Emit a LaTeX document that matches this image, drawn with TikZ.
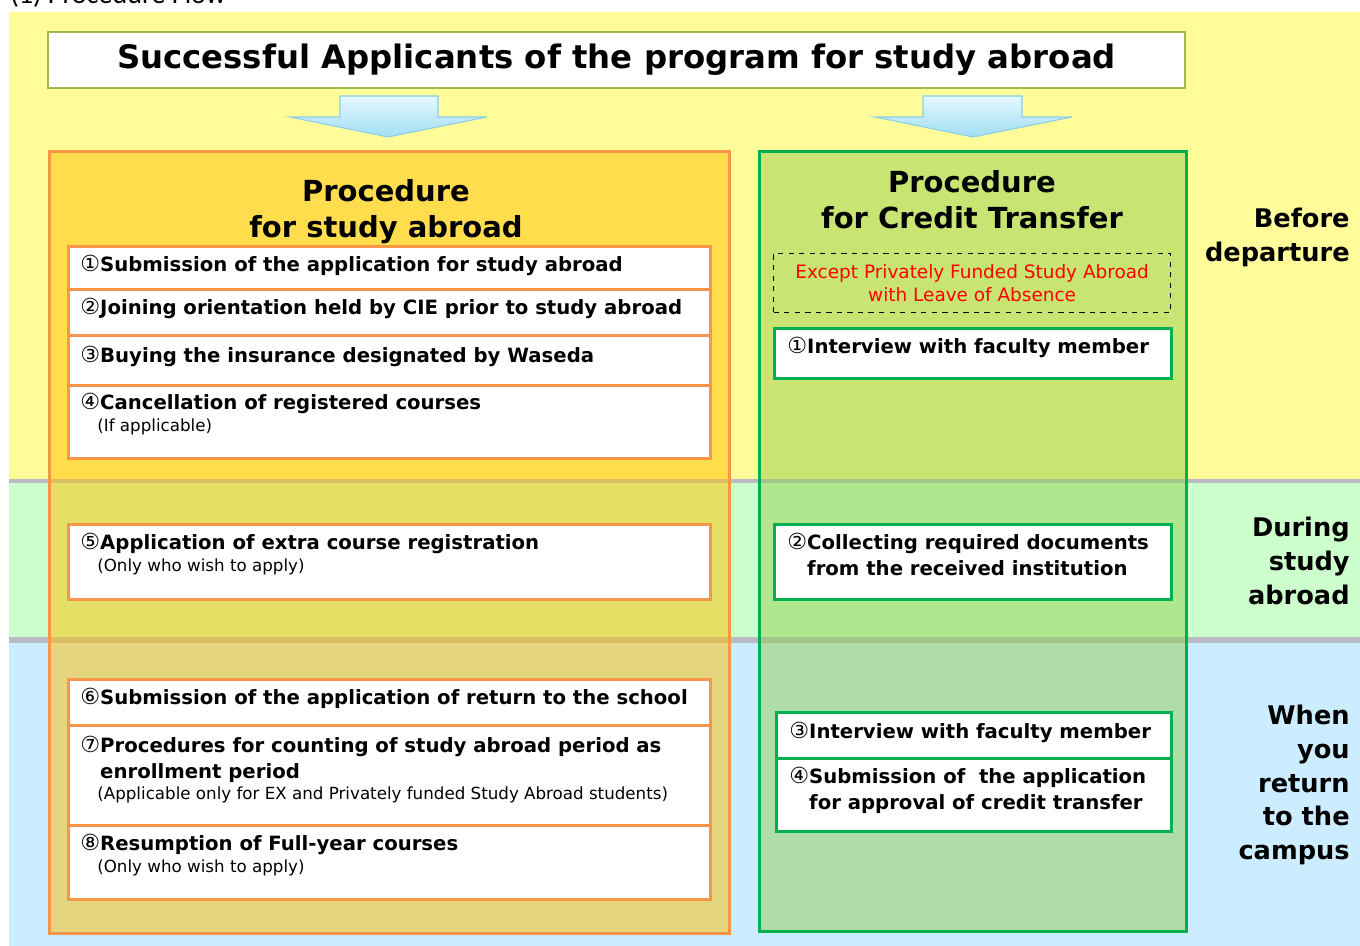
\documentclass[tikz,border=0pt]{standalone}
\usepackage{fontspec}
\setmainfont{DejaVu Sans}
\newfontfamily\capfont{Carlito}
\usepackage{tikz}
\usetikzlibrary{calc}

\definecolor{bandY}{HTML}{FFFC99}
\definecolor{bandG}{HTML}{CCFFCC}
\definecolor{bandB}{HTML}{CCECFF}
\definecolor{sepgray}{HTML}{B8BAC4}
\definecolor{boxorange}{HTML}{F79646}
\definecolor{colorange}{HTML}{FFC000}
\definecolor{boxgreen}{HTML}{00B050}
\definecolor{colgreen}{HTML}{92D050}
\definecolor{titlegreen}{HTML}{9BBB59}
\definecolor{arrowtop}{HTML}{E8F9FF}
\definecolor{arrowbot}{HTML}{9FDDF5}
\definecolor{arrowline}{HTML}{8CCFE6}

\newcommand{\pxl}{0.02cm}
\newcommand{\circnum}[1]{{\mdseries\fontsize{12.6}{14.8}\selectfont#1}}

\tikzset{
  lbox/.style={draw=boxorange, line width=1.6pt, fill=white, anchor=north west, minimum width=642*\pxl, inner sep=0pt},
  rbox/.style={draw=boxgreen, line width=1.6pt, fill=white, anchor=north west, inner sep=0pt},
  itemtext/.style={anchor=north west, inner sep=0pt, align=left, font=\bfseries\fontsize{11.2}{14.8}\selectfont},
  notetext/.style={anchor=north west, inner sep=0pt, font=\fontsize{9.5}{11}\selectfont},
  headtext/.style={align=center, inner sep=0pt, font=\bfseries\fontsize{16.5}{20.4}\selectfont},
  phase/.style={anchor=east, align=right, inner sep=0pt, font=\bfseries\fontsize{14.6}{19.3}\selectfont},
  downarrow/.style={draw=arrowline, line width=0.6pt, top color=arrowtop, bottom color=arrowbot},
}

\begin{document}
\begin{tikzpicture}[x=0.02cm, y=-0.02cm]
    \useasboundingbox (0,0) rectangle (1360,946);
    \node[anchor=base west, inner sep=0pt, font=\capfont\fontsize{16}{18}\selectfont] (cap) at (10,4) {(1) Procedure Flow};

    % bands
    \fill[bandY] (9,12) rectangle (1360,480);
    \fill[bandG] (9,483) rectangle (1360,638);
    \fill[bandB] (9,643) rectangle (1360,946);
    \fill[sepgray] (9,479) rectangle (1360,483);
    \fill[sepgray] (9,637) rectangle (1360,643);

    \node[draw=titlegreen, line width=1.6pt, fill=white, minimum width=1137*\pxl, minimum height=56*\pxl, font=\bfseries\fontsize{18.4}{22}\selectfont] (title) at (616.5,60) {\raisebox{-0.1cm}{Successful Applicants of the program for study abroad}};

    \draw[downarrow] (340,96) -- (438,96) -- (438,117) -- (487,117) -- (388,137) -- (290,117) -- (340,117) -- cycle;
    \draw[downarrow] (923,96) -- (1022,96) -- (1022,117) -- (1072,117) -- (973,137) -- (875,117) -- (923,117) -- cycle;

    % two columns
    \node[draw=boxorange, line width=1.6pt, fill=colorange, fill opacity=0.5, anchor=north west, minimum width=680*\pxl, minimum height=782*\pxl] (abroad) at (48,150) {};
    \node[draw=boxgreen, line width=1.6pt, fill=colgreen, fill opacity=0.5, anchor=north west, minimum width=427*\pxl, minimum height=780*\pxl] (credit) at (758,150) {};
    \node[headtext] (abroadhead) at (386,212) {Procedure\\for study abroad};
    \node[headtext] (credithead) at (972,200) {Procedure\\for Credit Transfer};

    % study abroad steps
    \node[lbox, minimum height=43*\pxl] (l1) at (67,245) {};
    \node[lbox, minimum height=46*\pxl] (l2) at (67,288) {};
    \node[lbox, minimum height=50*\pxl] (l3) at (67,334) {};
    \node[lbox, minimum height=73*\pxl] (l4) at (67,384) {};
    \node[lbox, minimum height=75*\pxl] (l5) at (67,523) {};
    \node[lbox, minimum height=46*\pxl] (l6) at (67,678) {};
    \node[lbox, minimum height=100*\pxl] (l7) at (67,724) {};
    \node[lbox, minimum height=74*\pxl] (l8) at (67,824) {};

    \node[itemtext] (t1) at ($(l1.north west)+(13,10)$) {\circnum{①}Submission of the application for study abroad};
    \node[itemtext] (t2) at ($(l2.north west)+(13,10)$) {\circnum{②}Joining orientation held by CIE prior to study abroad};
    \node[itemtext] (t3) at ($(l3.north west)+(13,12)$) {\circnum{③}Buying the insurance designated by Waseda};
    \node[itemtext] (t4) at ($(l4.north west)+(13,9)$) {\circnum{④}Cancellation of registered courses};
    \node[notetext] (n4) at ($(l4.north west)+(30,34)$) {(If applicable)};
    \node[itemtext] (t5) at ($(l5.north west)+(13,10)$) {\circnum{⑤}Application of extra course registration};
    \node[notetext] (n5) at ($(l5.north west)+(30,35)$) {(Only who wish to apply)};
    \node[itemtext] (t6) at ($(l6.north west)+(13,10)$) {\circnum{⑥}Submission of the application of return to the school};
    \node[itemtext] (t7) at ($(l7.north west)+(13,12)$) {\circnum{⑦}Procedures for counting of study abroad period as\\\hphantom{\circnum{⑦}}enrollment period};
    \node[notetext] (n7) at ($(l7.north west)+(30,62)$) {(Applicable only for EX and Privately funded Study Abroad students)};
    \node[itemtext] (t8) at ($(l8.north west)+(13,10)$) {\circnum{⑧}Resumption of Full-year courses};
    \node[notetext] (n8) at ($(l8.north west)+(30,35)$) {(Only who wish to apply)};

    % credit transfer steps
    \node[draw, dashed, line width=0.7pt, anchor=north west, minimum width=397*\pxl, minimum height=59*\pxl, text=red, align=center, font=\fontsize{10.5}{13}\selectfont] (except) at (773,253) {Except Privately Funded Study Abroad\\with Leave of Absence};
    \node[rbox, minimum width=397*\pxl, minimum height=50*\pxl] (r1) at (773,327) {};
    \node[rbox, minimum width=397*\pxl, minimum height=75*\pxl] (r2) at (773,523) {};
    \node[rbox, minimum width=395*\pxl, minimum height=46*\pxl] (r3) at (775,711) {};
    \node[rbox, minimum width=395*\pxl, minimum height=73*\pxl] (r4) at (775,757) {};

    \node[itemtext] (s1) at ($(r1.north west)+(14,10)$) {\circnum{①}Interview with faculty member};
    \node[itemtext] (s2) at ($(r2.north west)+(14,10)$) {\circnum{②}Collecting required documents\\\hphantom{\circnum{②}}from the received institution};
    \node[itemtext] (s3) at ($(r3.north west)+(14,11)$) {\circnum{③}Interview with faculty member};
    \node[itemtext] (s4) at ($(r4.north west)+(14,10)$) {\circnum{④}Submission of\ \ the application\\\hphantom{\circnum{④}}for approval of credit transfer};

    % labels on the right
    \node[phase] (before) at (1350,237) {Before\\departure};
    \node[phase] (during) at (1350,561) {During\\study\\abroad};
    \node[phase] (back) at (1350,785) {When\\you\\return\\to the\\campus};
\end{tikzpicture}
\end{document}
